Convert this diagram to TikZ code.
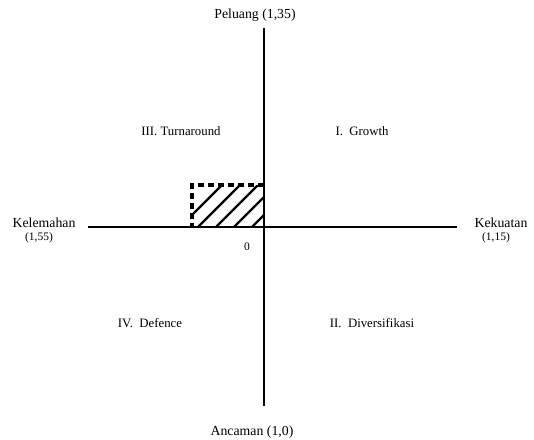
\documentclass[tikz,border=0pt]{standalone}
\usepackage{fontspec}
\setmainfont{Liberation Serif}
\begin{document}
\begin{tikzpicture}[x=1pt,y=-1pt,
  axis/.style={line width=2.6pt},
  axlabel/.style={font=\fontsize{13.8}{16}\selectfont, inner sep=0pt},
  coordlabel/.style={font=\fontsize{11.5}{13}\selectfont, inner sep=0pt},
  quadlabel/.style={font=\fontsize{12.8}{15}\selectfont, inner sep=0pt},
  hatch/.style={line width=2.2pt},
  dashedge/.style={line width=3.2pt, dash pattern=on 6pt off 4pt}]
\useasboundingbox[fill=white] (0,0) rectangle (534,439);
% axes
\coordinate (top) at (264,28);
\coordinate (bot) at (264,406);
\coordinate (left) at (88,227);
\coordinate (right) at (457,227);
\coordinate (o) at (264,227);
% hatched region
\coordinate (rtl) at (192,185);
\coordinate (rtr) at (264,185);
\coordinate (rbl) at (192,227);
\begin{scope}
  \clip (rbl) rectangle (rtr);
  \foreach \s in {-14,4,22,40,58} {
    \draw[hatch] (192+\s,229) -- ++(46,-46);
  }
\end{scope}
\draw[dashedge] (rtr) -- (rtl) -- (rbl);
\draw[axis] (top) -- (bot);
\draw[axis] (left) -- (right);
% labels
\node[axlabel] (peluang) at (255,15) {Peluang (1,35)};
\node[axlabel] (ancaman) at (252,432) {Ancaman (1,0)};
\node[axlabel] (kelemahan) at (44,223) {Kelemahan};
\node[coordlabel] (kelv) at (39,238) {(1,55)};
\node[axlabel] (kekuatan) at (501,223) {Kekuatan};
\node[coordlabel] (kekv) at (496,238) {(1,15)};
\node[coordlabel] (zero) at (247,247) {0};
\node[quadlabel] (q3) at (181,131) {III. Turnaround};
\node[quadlabel] (q1) at (362,131) {I.\ \ Growth};
\node[quadlabel] (q4) at (150,323) {IV.\ \ Defence};
\node[quadlabel] (q2) at (372,323) {II.\ \ Diversifikasi};
\end{tikzpicture}
\end{document}
